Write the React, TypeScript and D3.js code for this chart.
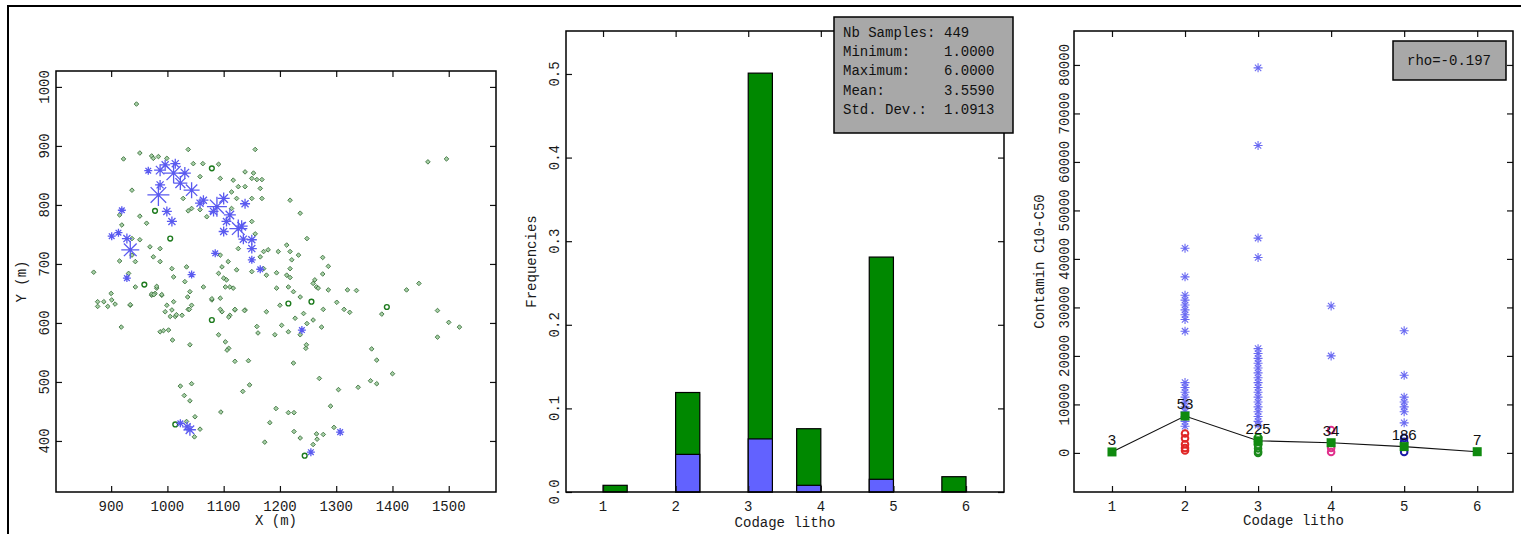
import { useEffect, useRef } from "react";
import * as d3 from "d3";

const W = 1521;
const H = 534;
const MONO = "'Liberation Mono', 'DejaVu Sans Mono', monospace";
const SANS = "'Liberation Sans', Arial, sans-serif";

// ---- left: sample location map (X, Y in m) ----
const greenPts: [number, number][] = [
  [951, 888], [972, 883], [975, 879], [984, 882], [999, 879], [1037, 894], [1046, 870], [1063, 870],
  [1091, 869], [1058, 848], [1094, 845], [1117, 842], [1138, 856], [1153, 854], [1150, 845], [1159, 843],
  [1168, 843], [1156, 894], [1165, 828], [1138, 831], [1126, 831], [1114, 822], [1123, 811], [1150, 811],
  [1168, 811], [1218, 808], [1236, 786], [1248, 743], [937, 825], [951, 781], [963, 769], [1028, 811],
  [1037, 790], [1043, 794], [1058, 792], [1070, 780], [1114, 794], [1150, 772], [1156, 751], [1171, 721],
  [1179, 724], [1197, 721], [1212, 732], [1218, 721], [1233, 715], [1126, 726], [1094, 715], [1108, 704],
  [1097, 695], [1123, 690], [1150, 687], [1165, 712], [1171, 692], [1176, 681], [1194, 685], [1212, 681],
  [1218, 692], [1221, 707], [1218, 677], [1194, 659], [1215, 661], [1224, 653], [1236, 644], [1262, 673],
  [1259, 667], [1265, 661], [1268, 659], [937, 743], [937, 715], [987, 726], [975, 712], [987, 704],
  [969, 729], [951, 741], [943, 704], [931, 684], [1008, 692], [1011, 678], [1034, 695], [1031, 670],
  [1040, 653], [1064, 661], [1091, 684], [1100, 676], [1105, 673], [1111, 661], [1094, 642], [1079, 639],
  [1097, 619], [1043, 630], [999, 630], [1008, 622], [990, 647], [978, 650], [972, 647], [934, 630],
  [943, 661], [981, 659], [1014, 611], [1026, 613], [1037, 623], [1002, 588], [987, 585], [1091, 580],
  [1111, 613], [1120, 622], [1138, 622], [1176, 619], [1200, 630], [1227, 608], [1242, 616], [1203, 596],
  [1159, 594], [1191, 580], [1215, 585], [1248, 599], [1259, 605], [1236, 580], [945, 971], [869, 686],
  [915, 705], [915, 783], [919, 766], [922, 878], [876, 636], [876, 628], [887, 636], [894, 628],
  [900, 650], [901, 639], [907, 632], [934, 631], [918, 593], [972, 649], [976, 648], [981, 662],
  [990, 648], [996, 619], [1005, 611], [1011, 636], [1016, 614], [1036, 644], [1039, 623], [993, 587],
  [1009, 571], [1040, 563], [1023, 493], [1043, 497], [1030, 477], [1040, 468], [1049, 441], [1058, 420],
  [1048, 407], [1034, 433], [1079, 641], [1094, 623], [1109, 610], [1117, 659], [1103, 661], [1120, 623],
  [1137, 621], [1103, 568], [1109, 557], [1106, 554], [1120, 535], [1144, 536], [1146, 495], [1134, 484],
  [1095, 449], [1161, 583], [1276, 711], [1286, 696], [1276, 683], [1286, 656], [1320, 656], [1336, 655],
  [1463, 873], [1496, 878], [1425, 656], [1447, 667], [1301, 635], [1314, 623], [1324, 618], [1277, 623],
  [1274, 593], [1246, 557], [1247, 563], [1224, 532], [1270, 506], [1304, 487], [1339, 491], [1290, 459],
  [1363, 556], [1372, 537], [1400, 514], [1361, 502], [1372, 497], [1381, 615], [1480, 621], [1480, 576],
  [1500, 601], [1519, 593], [1193, 455], [1182, 431], [1215, 448], [1225, 448], [1225, 416], [1236, 405],
  [1173, 398], [1296, 423], [1265, 412], [1277, 411], [1259, 394], [1266, 403],
];
const circlePts: [number, number][] = [
  [978, 790], [1005, 743], [1079, 862], [959, 665], [1256, 636], [1215, 633], [1079, 605], [1390, 627],
  [1244, 375], [1014, 428],
];
// x, y, relative marker weight
const bluePts: [number, number, number][] = [
  [966, 858, 4], [987, 859, 6], [996, 868, 5], [1014, 870, 5], [1011, 854, 10], [1031, 854, 6],
  [1023, 837, 7], [987, 834, 5], [984, 817, 11], [1043, 825, 8], [1064, 808, 5], [1058, 803, 5],
  [1088, 797, 10], [1100, 811, 6], [1082, 789, 5], [1138, 802, 5], [1111, 783, 6], [1105, 772, 5],
  [1126, 760, 9], [1132, 764, 6], [1135, 742, 5], [1150, 741, 5], [1150, 726, 5], [1100, 755, 5],
  [999, 789, 5], [1008, 772, 5], [919, 791, 4], [928, 743, 5], [934, 724, 9], [928, 676, 4],
  [1085, 718, 4], [1043, 682, 4], [1150, 707, 4], [1165, 691, 4], [1239, 588, 4], [901, 747, 4],
  [913, 753, 4], [1023, 430, 4], [1035, 424, 5], [1040, 419, 6], [1307, 415, 4], [1255, 381, 4],
];
const mapXTicks = [900, 1000, 1100, 1200, 1300, 1400, 1500];
const mapYTicks = [400, 500, 600, 700, 800, 900, 1000];

// ---- middle: histogram of lithology code ----
const binStart = [1, 2, 3, 3.667, 4.667, 5.667];
const binEnd = [1.333, 2.333, 3.333, 4, 5, 6];
const freqAll = [0.008, 0.119, 0.501, 0.0757, 0.281, 0.0183];
const freqSel = [0, 0.045, 0.0635, 0.008, 0.0152, 0];
const histYTicks = [0, 0.1, 0.2, 0.3, 0.4, 0.5];
const statNames = ["Nb Samples:", "Minimum:", "Maximum:", "Mean:", "Std. Dev.:"];
const statValues = ["449", "1.0000", "6.0000", "3.5590", "1.0913"];

// ---- right: contamination by lithology ----
const codes = [1, 2, 3, 4, 5, 6];
const classMeans = [200, 7600, 2500, 2100, 1300, 250];
const classCounts = ["3", "53", "225", "34", "186", "7"];
const highCode = [
  2, 2, 2, 2, 2, 2, 2, 2, 2, 2, 2, 2, 2, 2, 2, 2, 2, 2, 2,
  3, 3, 3, 3, 3, 3, 3, 3, 3, 3, 3, 3, 3, 3, 3, 3, 3, 3, 3, 3, 3,
  4, 4,
  5, 5, 5, 5, 5, 5, 5,
];
const highValue = [
  42200, 36300, 32500, 31500, 30500, 29500, 28500, 27500, 25100, 14500, 13500, 12500, 11500, 10500, 9500, 8500, 7500, 6500, 5500,
  79400, 63400, 44300, 40300, 21500, 20500, 19500, 18500, 17500, 16500, 15500, 14500, 13500, 12500, 11500, 10500, 9500, 8500, 7500, 6500, 5700,
  30300, 20000,
  25200, 16000, 11500, 10500, 9500, 8500, 6200,
];
const lowCode = [2, 2, 2, 2, 2, 3, 3, 3, 3, 3, 3, 4, 4, 4, 5, 5, 5];
const lowValue = [4000, 3000, 1800, 1000, 500, 3200, 2400, 1600, 900, 300, 0, 4700, 1000, 200, 3100, 2300, 200];
const contYTicks = [0, 10000, 20000, 30000, 40000, 50000, 60000, 70000, 80000];
const rhoText = "rho=-0.197";

const lowColor: Record<number, string> = { 2: "#e02828", 3: "#1a8a1a", 4: "#e0308c", 5: "#1c1ca8" };

const diamond = (r: number) => `M0,${-r}L${r},0L0,${r}L${-r},0Z`;
const asterisk = (r: number) => {
  const d = r * 0.7071;
  return `M0,${-r}V${r}M${-r},0H${r}M${-d},${-d}L${d},${d}M${-d},${d}L${d},${-d}`;
};

type Lin = d3.ScaleLinear<number, number>;

function drawBox(
  g: d3.Selection<SVGGElement, unknown, null, undefined>,
  x: Lin,
  y: Lin,
  xTicks: number[],
  yTicks: number[],
  yFmt: (v: number) => string,
  yLabelX: number,
  xTitle: string,
  xTitleY: number,
  yTitle: string,
  yTitleX: number
) {
  const [x0, x1] = x.range();
  const [y0, y1] = y.range();
  const T = 6;
  const axes = g.append("g").attr("class", "axes");
  axes.append("g").attr("transform", `translate(0,${y0})`)
    .call(d3.axisBottom(x).tickValues(xTicks).tickSize(-T).tickSizeOuter(0).tickFormat(() => ""));
  axes.append("g").attr("transform", `translate(0,${y1})`)
    .call(d3.axisTop(x).tickValues(xTicks).tickSize(-T).tickSizeOuter(0).tickFormat(() => ""));
  axes.append("g").attr("transform", `translate(${x0},0)`)
    .call(d3.axisLeft(y).tickValues(yTicks).tickSize(-T).tickSizeOuter(0).tickFormat(() => ""));
  axes.append("g").attr("transform", `translate(${x1},0)`)
    .call(d3.axisRight(y).tickValues(yTicks).tickSize(-T).tickSizeOuter(0).tickFormat(() => ""));
  axes.selectAll(".domain").remove();
  axes.selectAll("line").attr("stroke", "#111").attr("stroke-width", 1.2);

  g.append("rect")
    .attr("x", x0).attr("y", y1).attr("width", x1 - x0).attr("height", y0 - y1)
    .attr("fill", "none").attr("stroke", "#000").attr("stroke-width", 1.5);

  const lab = g.append("g").attr("font-family", MONO).attr("font-size", 14).attr("fill", "#1a1a1a");
  lab.selectAll(".xl").data(xTicks).join("text").attr("class", "xl")
    .attr("x", (d) => x(d)).attr("y", 507).attr("text-anchor", "middle")
    .attr("dominant-baseline", "central").text((d) => String(d));
  lab.selectAll(".yl").data(yTicks).join("text").attr("class", "yl")
    .attr("x", yLabelX).attr("y", (d) => y(d)).attr("text-anchor", "middle")
    .attr("dominant-baseline", "central")
    .attr("transform", (d) => `rotate(-90,${yLabelX},${y(d)})`).text(yFmt);
  lab.append("text").attr("x", (x0 + x1) / 2).attr("y", xTitleY).attr("text-anchor", "middle")
    .attr("dominant-baseline", "central").text(xTitle);
  const cy = (y0 + y1) / 2;
  lab.append("text").attr("x", yTitleX).attr("y", cy).attr("text-anchor", "middle")
    .attr("dominant-baseline", "central").attr("transform", `rotate(-90,${yTitleX},${cy})`).text(yTitle);
}

export default function App() {
  const ref = useRef<SVGSVGElement>(null);

  useEffect(() => {
    const svg = d3.select(ref.current);
    svg.selectAll("*").remove();

    svg.append("path").attr("d", `M8,${H}V6H${W}`).attr("fill", "none").attr("stroke", "#000").attr("stroke-width", 2);

    // ---------- map ----------
    const mx = d3.scaleLinear().domain([802, 1584]).range([56, 496]);
    const my = d3.scaleLinear().domain([313.5, 1027]).range([492, 71]);
    const gm = svg.append("g");
    gm.selectAll(".gd").data(greenPts).join("path").attr("class", "gd")
      .attr("transform", (d) => `translate(${mx(d[0])},${my(d[1])})`)
      .attr("d", diamond(2.3)).attr("fill", "#a6cfa6").attr("stroke", "#3e733e").attr("stroke-width", 0.9);
    gm.selectAll(".gc").data(circlePts).join("circle").attr("class", "gc")
      .attr("cx", (d) => mx(d[0])).attr("cy", (d) => my(d[1])).attr("r", 2.4)
      .attr("fill", "none").attr("stroke", "#1d7a1d").attr("stroke-width", 1.4);
    gm.selectAll(".bs").data(bluePts).join("path").attr("class", "bs")
      .attr("transform", (d) => `translate(${mx(d[0])},${my(d[1])})`)
      .attr("d", (d) => asterisk(d[2]))
      .attr("fill", "none").attr("stroke", "#5a5af0").attr("stroke-width", 1.3);
    drawBox(gm, mx, my, mapXTicks, mapYTicks, (d) => String(d), 45, "X (m)", 521, "Y (m)", 22);

    // ---------- histogram ----------
    const hx = d3.scaleLinear().domain([0.49, 6.523]).range([566, 1004]);
    const hy = d3.scaleLinear().domain([0, 0.5514]).range([492, 31]);
    const gh = svg.append("g");
    gh.selectAll(".ba").data(freqAll).join("rect").attr("class", "ba")
      .attr("x", (_, i) => hx(binStart[i])).attr("width", (_, i) => hx(binEnd[i]) - hx(binStart[i]))
      .attr("y", (d) => hy(d)).attr("height", (d) => hy(0) - hy(d))
      .attr("fill", "#008800").attr("stroke", "#000").attr("stroke-width", 1.2);
    gh.selectAll(".bb").data(freqSel).join("rect").attr("class", "bb")
      .attr("x", (_, i) => hx(binStart[i])).attr("width", (_, i) => hx(binEnd[i]) - hx(binStart[i]))
      .attr("y", (d) => hy(d)).attr("height", (d) => hy(0) - hy(d))
      .attr("fill", "#6262ff").attr("stroke", "#000").attr("stroke-width", (d) => (d > 0 ? 1.2 : 0));
    drawBox(gh, hx, hy, codes, histYTicks, (d) => d.toFixed(1), 555, "Codage litho", 523, "Frequencies", 532);

    const sb = gh.append("g");
    sb.append("rect").attr("x", 834).attr("y", 17).attr("width", 179).attr("height", 116)
      .attr("fill", "#a8a8a8").attr("stroke", "#000").attr("stroke-width", 1.5);
    const st = sb.append("g").attr("font-family", MONO).attr("font-size", 14).attr("fill", "#111");
    st.selectAll(".sn").data(statNames).join("text").attr("class", "sn")
      .attr("x", 843).attr("y", (_, i) => 33 + i * 19.2).attr("dominant-baseline", "central").text((d) => d);
    st.selectAll(".sv").data(statValues).join("text").attr("class", "sv")
      .attr("x", 944).attr("y", (_, i) => 33 + i * 19.2).attr("dominant-baseline", "central").text((d) => d);

    // ---------- contamination vs lithology ----------
    const cx = d3.scaleLinear().domain([0.48, 6.49]).range([1074, 1513]);
    const cy = d3.scaleLinear().domain([-8060, 87000]).range([492, 31]);
    const gc = svg.append("g");
    gc.selectAll(".hs").data(highValue).join("path").attr("class", "hs")
      .attr("transform", (d, i) => `translate(${cx(highCode[i])},${cy(d)})`)
      .attr("d", asterisk(4.5)).attr("fill", "none").attr("stroke", "#6a6af2").attr("stroke-width", 1.1);
    gc.selectAll(".lc").data(lowValue).join("circle").attr("class", "lc")
      .attr("cx", (_, i) => cx(lowCode[i])).attr("cy", (d) => cy(d)).attr("r", 3.3)
      .attr("fill", "none").attr("stroke", (_, i) => lowColor[lowCode[i]]).attr("stroke-width", 2);
    const line = d3.line<number>().x((_, i) => cx(codes[i])).y((d) => cy(d));
    gc.append("path").attr("d", line(classMeans)).attr("fill", "none").attr("stroke", "#111").attr("stroke-width", 1.1);
    gc.selectAll(".sq").data(classMeans).join("rect").attr("class", "sq")
      .attr("x", (_, i) => cx(codes[i]) - 4.5).attr("y", (d) => cy(d) - 4.5)
      .attr("width", 9).attr("height", 9).attr("fill", "#0f8a0f");
    gc.selectAll(".cl").data(classCounts).join("text").attr("class", "cl")
      .attr("x", (_, i) => cx(codes[i])).attr("y", (_, i) => cy(classMeans[i]) - 7)
      .attr("text-anchor", "middle").attr("font-family", SANS).attr("font-size", 15).attr("fill", "#111")
      .text((d) => d);
    drawBox(gc, cx, cy, codes, contYTicks, (d) => String(d), 1065, "Codage litho", 521, "Contamin C10-C50", 1040);

    const rb = gc.append("g");
    rb.append("rect").attr("x", 1393).attr("y", 41).attr("width", 113).attr("height", 39)
      .attr("fill", "#a8a8a8").attr("stroke", "#000").attr("stroke-width", 1.5);
    rb.append("text").attr("x", 1449).attr("y", 61).attr("text-anchor", "middle").attr("dominant-baseline", "central")
      .attr("font-family", MONO).attr("font-size", 14).attr("fill", "#111").text(rhoText);
  }, []);

  return (
    <svg
      ref={ref}
      width={W}
      height={H}
      style={{ position: "absolute", left: 0, top: 0, background: "#fff" }}
    />
  );
}
